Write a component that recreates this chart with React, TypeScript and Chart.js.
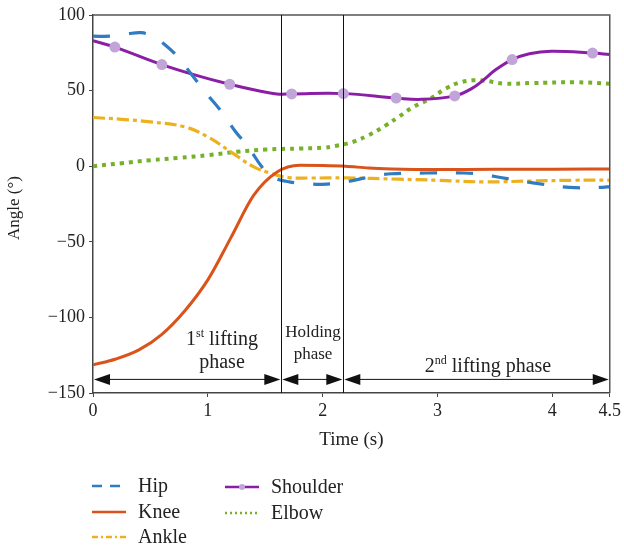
import React, { useEffect, useRef } from "react";
import { Chart, registerables } from "chart.js";

Chart.register(...registerables);

// ---- data ----
const hipT = [0, 0.15, 0.3, 0.42, 0.52, 0.6, 0.73, 0.86, 1.0, 1.12, 1.24, 1.35, 1.47, 1.56, 1.71, 1.9, 2.0, 2.15, 2.29, 2.45, 2.6, 2.9, 3.23, 3.4, 3.55, 3.83, 4.15, 4.44, 4.5];
const hipV = [86, 86, 87.5, 88.3, 86, 82, 73, 60.5, 47, 36, 23, 13, -0.4, -7, -10.4, -11.8, -12, -11, -9, -6.5, -5, -4.5, -4.5, -5.5, -7.5, -11, -14, -14, -13.5];

const kneeT = [0, 0.2, 0.4, 0.6, 0.8, 1.0, 1.2, 1.4, 1.6, 1.8, 2.0, 2.2, 2.4, 2.6, 3.0, 3.5, 4.0, 4.5];
const kneeV = [-131.4, -127.5, -121.5, -111.2, -95.6, -75.2, -47.4, -19.2, -4, 0.6, 0.5, 0, -1.2, -1.8, -2.2, -2, -2, -1.8];

const ankleT = [0, 0.25, 0.5, 0.8, 1.0, 1.2, 1.4, 1.55, 1.7, 1.9, 2.2, 2.66, 3.0, 3.41, 3.8, 4.2, 4.5];
const ankleV = [32.2, 31, 29.3, 26, 19.4, 9.5, -0.4, -4.7, -7.5, -7.8, -7.7, -8.6, -9.3, -10.4, -9.8, -9.3, -9.2];

const shoulderT = [0, 0.19, 0.6, 0.9, 1.19, 1.45, 1.6, 1.73, 2.18, 2.64, 2.86, 3.15, 3.3, 3.4, 3.5, 3.65, 3.8, 3.99, 4.35, 4.5];
const shoulderV = [83, 78.8, 67.2, 60.1, 54.2, 49.7, 47.8, 47.8, 48, 45.1, 44.2, 46.5, 51.5, 57, 63.4, 70.5, 74.4, 76, 74.8, 73.8];
const shoulderMarkerT = [0.19, 0.6, 1.19, 1.73, 2.18, 2.64, 3.15, 3.65, 4.35];

const elbowT = [0, 0.25, 0.5, 0.75, 1.0, 1.25, 1.5, 1.8, 2.0, 2.11, 2.26, 2.4, 2.55, 2.66, 2.79, 2.94, 3.07, 3.21, 3.37, 3.59, 3.82, 4.2, 4.5];
const elbowV = [0, 2, 4, 5.5, 7.3, 9.5, 11, 11.7, 12.2, 13.4, 16, 20.5, 27, 32.6, 39.2, 44.7, 51.3, 55.7, 56.8, 54.6, 55, 55.5, 54.6];

const xTicks = [0, 1, 2, 3, 4, 4.5];
const phaseBounds = [0, 1.64, 2.18, 4.5];
const arrowY = -141;

const COLORS = {
  hip: "#2f7cc2",
  knee: "#d9531a",
  ankle: "#edb120",
  shoulder: "#8a1fa6",
  marker: "#c1a5d8",
  elbow: "#77b12a",
};

const FONT = "'Liberation Serif', 'Times New Roman', serif";

const pts = (t: number[], v: number[]) => t.map((x, i) => ({ x, y: v[i] }));

function drawSupText(ctx: CanvasRenderingContext2D, parts: { t: string; sup?: boolean }[], cx: number, cy: number, size: number) {
  const supSize = Math.round(size * 0.62);
  let total = 0;
  const widths = parts.map((p) => {
    ctx.font = `${p.sup ? supSize : size}px ${FONT}`;
    const w = ctx.measureText(p.t).width;
    total += w;
    return w;
  });
  let x = cx - total / 2;
  ctx.textAlign = "left";
  ctx.textBaseline = "middle";
  parts.forEach((p, i) => {
    ctx.font = `${p.sup ? supSize : size}px ${FONT}`;
    ctx.fillText(p.t, x, p.sup ? cy - size * 0.32 : cy);
    x += widths[i];
  });
}

const decorPlugin = {
  id: "decor",
  afterDatasetsDraw(chart: any) {
    const { ctx, chartArea: a, scales } = chart;
    const xs = scales.x;
    const ys = scales.y;
    ctx.save();
    // frame top/right
    ctx.strokeStyle = "#555";
    ctx.lineWidth = 1.5;
    ctx.beginPath();
    ctx.moveTo(a.left, a.top);
    ctx.lineTo(a.right, a.top);
    ctx.lineTo(a.right, a.bottom);
    ctx.stroke();

    // phase lines
    ctx.strokeStyle = "#111";
    ctx.lineWidth = 1;
    [phaseBounds[1], phaseBounds[2]].forEach((t) => {
      const px = Math.round(xs.getPixelForValue(t)) + 0.5;
      ctx.beginPath();
      ctx.moveTo(px, a.top);
      ctx.lineTo(px, a.bottom);
      ctx.stroke();
    });

    // arrows
    const ay = ys.getPixelForValue(arrowY);
    const headL = 16;
    const headH = 5.5;
    ctx.fillStyle = "#111";
    for (let i = 0; i < phaseBounds.length - 1; i++) {
      const x1 = xs.getPixelForValue(phaseBounds[i]) + 1;
      const x2 = xs.getPixelForValue(phaseBounds[i + 1]) - 1;
      ctx.beginPath();
      ctx.moveTo(x1 + headL - 2, ay);
      ctx.lineTo(x2 - headL + 2, ay);
      ctx.stroke();
      ctx.beginPath();
      ctx.moveTo(x1, ay);
      ctx.lineTo(x1 + headL, ay - headH);
      ctx.lineTo(x1 + headL, ay + headH);
      ctx.closePath();
      ctx.fill();
      ctx.beginPath();
      ctx.moveTo(x2, ay);
      ctx.lineTo(x2 - headL, ay - headH);
      ctx.lineTo(x2 - headL, ay + headH);
      ctx.closePath();
      ctx.fill();
    }

    // phase labels
    ctx.fillStyle = "#222";
    drawSupText(ctx, [{ t: "1" }, { t: "st", sup: true }, { t: " lifting" }], 222, 340, 20);
    drawSupText(ctx, [{ t: "phase" }], 222, 363, 20);
    drawSupText(ctx, [{ t: "Holding" }], 313, 333, 17);
    drawSupText(ctx, [{ t: "phase" }], 313, 355, 17);
    drawSupText(ctx, [{ t: "2" }, { t: "nd", sup: true }, { t: " lifting phase" }], 488, 367, 20);

    // axis titles
    ctx.font = `19px ${FONT}`;
    ctx.textAlign = "center";
    ctx.textBaseline = "middle";
    ctx.fillText("Time (s)", (a.left + a.right) / 2, 440);
    ctx.save();
    ctx.translate(15, 208);
    ctx.rotate(-Math.PI / 2);
    ctx.font = `17px ${FONT}`;
    ctx.fillText("Angle (°)", 0, 0);
    ctx.restore();

    // legend
    const items = [
      { label: "Hip", color: COLORS.hip, dash: [10, 8], x: 92, y: 486 },
      { label: "Knee", color: COLORS.knee, dash: [], x: 92, y: 512 },
      { label: "Ankle", color: COLORS.ankle, dash: [6, 3, 2, 3], x: 92, y: 537 },
      { label: "Shoulder", color: COLORS.shoulder, dash: [], x: 225, y: 487, marker: true },
      { label: "Elbow", color: COLORS.elbow, dash: [2, 3], x: 225, y: 513 },
    ];
    items.forEach((it) => {
      ctx.strokeStyle = it.color;
      ctx.lineWidth = 2.5;
      ctx.setLineDash(it.dash);
      ctx.beginPath();
      ctx.moveTo(it.x, it.y);
      ctx.lineTo(it.x + 34, it.y);
      ctx.stroke();
      ctx.setLineDash([]);
      if (it.marker) {
        ctx.fillStyle = COLORS.marker;
        ctx.beginPath();
        ctx.arc(it.x + 17, it.y, 3, 0, Math.PI * 2);
        ctx.fill();
      }
      ctx.fillStyle = "#222";
      ctx.font = `20px ${FONT}`;
      ctx.textAlign = "left";
      ctx.textBaseline = "middle";
      ctx.fillText(it.label, it.x + 46, it.y + 1);
    });
    ctx.restore();
  },
};

export default function App() {
  const ref = useRef<HTMLCanvasElement | null>(null);
  useEffect(() => {
    if (!ref.current) return;
    const chart = new Chart(ref.current, {
      type: "line",
      data: {
        datasets: [
          {
            label: "Hip",
            data: pts(hipT, hipV),
            borderColor: COLORS.hip,
            borderWidth: 3.2,
            borderDash: [17, 19],
            pointRadius: 0,
            tension: 0.4,
          },
          {
            label: "Knee",
            data: pts(kneeT, kneeV),
            borderColor: COLORS.knee,
            borderWidth: 3,
            pointRadius: 0,
            cubicInterpolationMode: "monotone",
          },
          {
            label: "Ankle",
            data: pts(ankleT, ankleV),
            borderColor: COLORS.ankle,
            borderWidth: 3.2,
            borderDash: [12, 4, 4, 4],
            pointRadius: 0,
            tension: 0.4,
          },
          {
            label: "Shoulder",
            data: pts(shoulderT, shoulderV),
            borderColor: COLORS.shoulder,
            borderWidth: 3,
            pointRadius: shoulderT.map((t) => (shoulderMarkerT.includes(t) ? 5.5 : 0)),
            pointBackgroundColor: COLORS.marker,
            pointBorderWidth: 0,
            tension: 0.4,
          },
          {
            label: "Elbow",
            data: pts(elbowT, elbowV),
            borderColor: COLORS.elbow,
            borderWidth: 4,
            borderDash: [4, 5],
            borderCapStyle: "butt",
            pointRadius: 0,
            tension: 0.4,
          },
        ],
      },
      options: {
        animation: false,
        responsive: false,
        maintainAspectRatio: false,
        layout: { padding: { top: 15, right: 13, left: 0, bottom: 0 } },
        plugins: { legend: { display: false }, tooltip: { enabled: false } },
        scales: {
          x: {
            type: "linear",
            min: 0,
            max: 4.5,
            afterBuildTicks: (axis: any) => {
              axis.ticks = xTicks.map((v) => ({ value: v }));
            },
            afterFit: (s: any) => {
              s.height = 158;
            },
            ticks: {
              autoSkip: false,
              maxRotation: 0,
              padding: 3,
              color: "#222",
              font: { family: FONT, size: 18 },
              callback: (v: any) => String(v),
            },
            grid: { drawOnChartArea: false, drawTicks: true, tickLength: 4, color: "#444" },
            border: { display: true, color: "#444", width: 1.5 },
          },
          y: {
            min: -150,
            max: 100,
            afterFit: (s: any) => {
              s.width = 93;
            },
            ticks: {
              stepSize: 50,
              padding: 4,
              color: "#222",
              font: { family: FONT, size: 18 },
              callback: (v: any) => (Number(v) < 0 ? "\u2212" + Math.abs(Number(v)) : String(v)),
            },
            grid: { drawOnChartArea: false, drawTicks: true, tickLength: 4, color: "#444" },
            border: { display: true, color: "#444", width: 1.5 },
          },
        },
      },
      plugins: [decorPlugin],
    } as any);
    return () => chart.destroy();
  }, []);
  return (
    <div style={{ position: "absolute", left: 0, top: 0, width: 624, height: 551, background: "#fff" }}>
      <canvas ref={ref} width={624} height={551} style={{ display: "block", width: 624, height: 551 }} />
    </div>
  );
}
